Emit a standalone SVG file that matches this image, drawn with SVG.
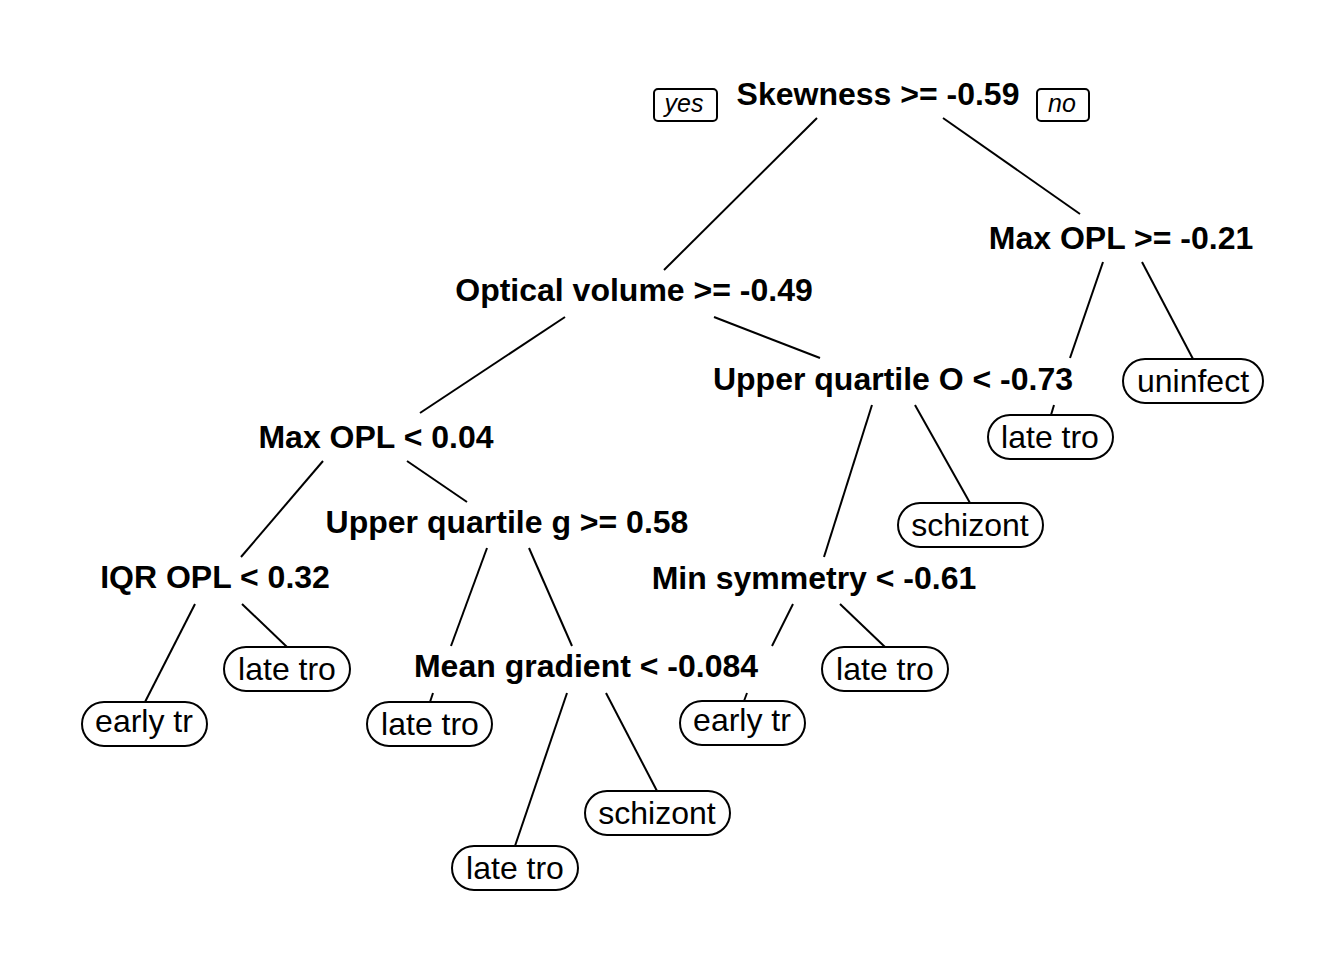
<svg xmlns="http://www.w3.org/2000/svg" width="1344" height="960" viewBox="0 0 1344 960">
<style>
.split{font-family:"Liberation Sans",Arial,sans-serif;font-size:32px;font-weight:bold;text-anchor:middle;fill:#000}
.leaf text{font-family:"Liberation Sans",Arial,sans-serif;font-size:32px;text-anchor:middle;fill:#000}
.leaf rect{fill:#fff;stroke:#000;stroke-width:2}
.yn rect{fill:#fff;stroke:#000;stroke-width:2}
.yn text{font-family:"Liberation Sans",Arial,sans-serif;font-size:25px;font-style:italic;text-anchor:middle;fill:#000}
#connectors line{stroke:#000;stroke-width:2}
</style>
<rect width="1344" height="960" fill="#fff"/>
<g id="connectors">
<line x1="817" y1="118" x2="664" y2="270"/>
<line x1="943" y1="118" x2="1080" y2="214"/>
<line x1="1103" y1="262" x2="1070" y2="358"/>
<line x1="1054" y1="405" x2="1051" y2="415"/>
<line x1="1142" y1="262" x2="1193" y2="359"/>
<line x1="565" y1="317" x2="420" y2="413"/>
<line x1="714" y1="317" x2="820" y2="358"/>
<line x1="872" y1="405" x2="824" y2="557"/>
<line x1="915" y1="405" x2="970" y2="503"/>
<line x1="323" y1="461" x2="241" y2="557"/>
<line x1="407" y1="461" x2="467" y2="502"/>
<line x1="487" y1="548" x2="451" y2="646"/>
<line x1="529" y1="548" x2="572" y2="646"/>
<line x1="195" y1="604" x2="145" y2="702"/>
<line x1="242" y1="604" x2="287" y2="647"/>
<line x1="433" y1="693" x2="430" y2="702"/>
<line x1="567" y1="693" x2="515" y2="846"/>
<line x1="606" y1="693" x2="657" y2="791"/>
<line x1="793" y1="604" x2="772" y2="646"/>
<line x1="747" y1="693" x2="744" y2="701"/>
<line x1="840" y1="604" x2="885" y2="647"/>
</g>
<g id="yes" class="yn"><rect x="654" y="89" width="63" height="32" rx="4"/><text x="684" y="112">yes</text></g>
<g id="no" class="yn"><rect x="1037" y="89" width="52" height="32" rx="4"/><text x="1062" y="112">no</text></g>
<g id="n1"><text class="split" x="878" y="105">Skewness &gt;= -0.59</text></g>
<g id="n3"><text class="split" x="1121" y="249">Max OPL &gt;= -0.21</text></g>
<g id="n2"><text class="split" x="634" y="301">Optical volume &gt;= -0.49</text></g>
<g id="n5"><text class="split" x="893" y="390">Upper quartile O &lt; -0.73</text></g>
<g id="n4"><text class="split" x="376" y="448">Max OPL &lt; 0.04</text></g>
<g id="n9"><text class="split" x="507" y="533">Upper quartile g &gt;= 0.58</text></g>
<g id="n8"><text class="split" x="215" y="588">IQR OPL &lt; 0.32</text></g>
<g id="n10"><text class="split" x="814" y="589">Min symmetry &lt; -0.61</text></g>
<g id="n19"><text class="split" x="586" y="677">Mean gradient &lt; -0.084</text></g>
<g id="leaf1" class="leaf"><rect x="1123" y="359" width="140" height="44" rx="22"/><text x="1193" y="392">uninfect</text></g>
<g id="leaf2" class="leaf"><rect x="988" y="415" width="125" height="44" rx="22"/><text x="1050" y="448">late tro</text></g>
<g id="leaf3" class="leaf"><rect x="898" y="503" width="145" height="44" rx="22"/><text x="970" y="536">schizont</text></g>
<g id="leaf4" class="leaf"><rect x="224" y="647" width="126" height="44" rx="22"/><text x="287" y="680">late tro</text></g>
<g id="leaf5" class="leaf"><rect x="82" y="702" width="125" height="44" rx="22"/><text x="144" y="732">early tr</text></g>
<g id="leaf6" class="leaf"><rect x="367" y="702" width="125" height="44" rx="22"/><text x="430" y="735">late tro</text></g>
<g id="leaf7" class="leaf"><rect x="680" y="701" width="125" height="44" rx="22"/><text x="742" y="731">early tr</text></g>
<g id="leaf8" class="leaf"><rect x="822" y="647" width="126" height="44" rx="22"/><text x="885" y="680">late tro</text></g>
<g id="leaf9" class="leaf"><rect x="585" y="791" width="145" height="44" rx="22"/><text x="657" y="824">schizont</text></g>
<g id="leaf10" class="leaf"><rect x="452" y="846" width="126" height="44" rx="22"/><text x="515" y="879">late tro</text></g>
</svg>
